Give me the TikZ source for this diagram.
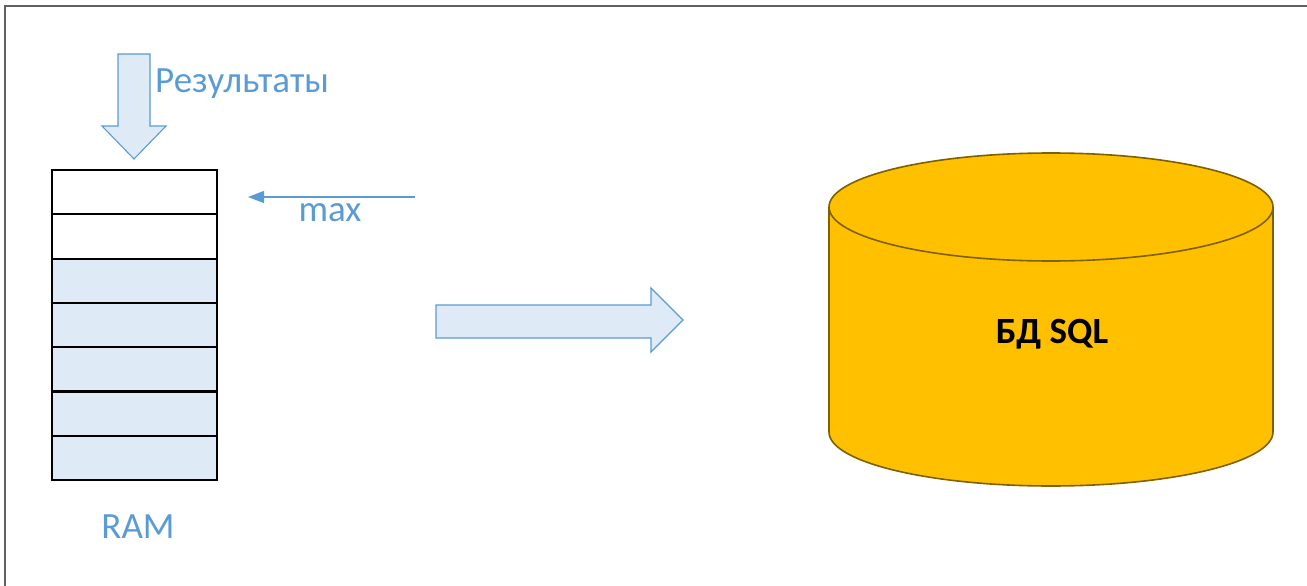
\documentclass[tikz,border=0pt]{standalone}
\usepackage{fontspec}
\setmainfont{Carlito}
\usetikzlibrary{arrows.meta}
\definecolor{accblue}{HTML}{5B9BD5}
\definecolor{paleblue}{HTML}{DEEAF6}
\definecolor{dbgold}{HTML}{FFC000}
\definecolor{dbedge}{HTML}{7F6000}
\definecolor{frame}{HTML}{606060}
\tikzset{
  cell/.style={draw=black, line width=2.2pt, minimum width=165pt, minimum height=44.3pt, inner sep=0pt, outer sep=0pt, anchor=north west},
  filledcell/.style={cell, fill=paleblue},
  blockarrow/.style={draw=accblue, fill=paleblue, line width=1.1pt, line join=miter},
  bluelabel/.style={text=accblue, font=\fontsize{37}{44}\selectfont, inner sep=0pt},
}
\begin{document}
\begin{tikzpicture}[x=1pt,y=-1pt]
\useasboundingbox (0,0) rectangle (1307,586);
% frame
\draw[frame, line width=2pt] (4.5,586) -- (4.5,6.5) -- (1307,6.5);

% top down arrow
\draw[blockarrow] (118,54) -- (150,54) -- (150,126) -- (166,126) -- (134,159) -- (102,126) -- (118,126) -- cycle;
\node[bluelabel, anchor=west] (res) at (155,84) {Результаты};

% RAM stack
\node[cell] (c1) at (52,170) {};
\node[cell] (c2) at (52,214.3) {};
\node[filledcell] (c3) at (52,258.6) {};
\node[filledcell] (c4) at (52,302.9) {};
\node[filledcell] (c5) at (52,347.2) {};
\node[filledcell] (c6) at (52,391.5) {};
\node[filledcell] (c7) at (52,435.8) {};
\node[bluelabel] (ram) at (138,527) {RAM};

% max pointer
\coordinate (mstart) at (415,197);
\coordinate (mend) at (248,197);
\draw[accblue, line width=1.3pt, -{Triangle[length=16pt,width=12pt]}] (mstart) -- (mend);
\node[bluelabel] (max) at (330,213) {max};

% right block arrow
\draw[blockarrow] (436,305) -- (651,305) -- (651,288) -- (683,320) -- (651,352) -- (651,338) -- (436,338) -- cycle;

% cylinder (y axis points down: angle 90 is the bottom, 270 the top)
\draw[fill=dbgold, draw=dbedge, line width=1.6pt]
  (829,207) -- (829,432) arc[start angle=180, end angle=0, x radius=222, y radius=54] -- (1273,207)
  arc[start angle=0, end angle=-180, x radius=222, y radius=54] -- cycle;
\draw[draw=dbedge, line width=1.6pt] (829,207) arc[start angle=180, end angle=0, x radius=222, y radius=54];
\node[font=\fontsize{37}{44}\selectfont\bfseries, inner sep=0pt] (db) at (1052,334) {БД SQL};
\end{tikzpicture}
\end{document}
